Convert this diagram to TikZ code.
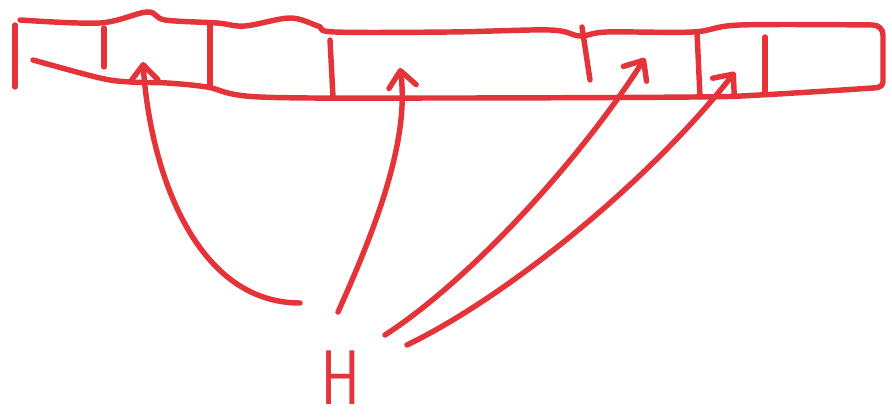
\documentclass[tikz,border=0pt]{standalone}
\usepackage{tikz}
\usetikzlibrary{positioning,arrows.meta}
\definecolor{penred}{HTML}{E5333A}
\tikzset{
  pen/.style={draw=penred, line width=3.1pt, line cap=round, line join=round},
  hook/.style={pen, -{Straight Barb[length=3.2mm,width=5.5mm,round]}},
  letter/.style={text=penred, font=\fontsize{44}{44}\selectfont\sffamily, inner sep=0pt, xscale=0.75},
}
\begin{document}
\begin{tikzpicture}[x=0.02cm, y=-0.02cm]
  \useasboundingbox (0,0) rectangle (892,418);

  % the strip
  \draw[pen] plot[smooth, tension=0.55] coordinates {(20,20) (100,23) (147,12) (165,20) (217,23) (245,26) (290,18) (318,26) (335,32) (450,32) (550,30) (580,36) (607,32) (693,32) (740,25) (873,25)}
    to[out=0, in=90] (883,35) -- (883,82) to[out=-90, in=0] (873,88);
  \draw[pen] plot[smooth, tension=0.55] coordinates {(873,88) (760,95) (693,97) (450,98) (260,97) (207,87) (167,83) (130,82) (100,78) (33,60)};
  \draw[pen] (15,25) -- (15,87);
  \foreach \xa/\ya/\xb/\yb in {104/28/104/67, 210/23/210/87, 330/40/333/97, 582/27/590/80, 697/32/700/97, 765/37/765/92}
    \draw[pen] (\xa,\ya) -- (\xb,\yb);

  % label and arrows
  \node[letter] (H) at (341,378) {H};

  \coordinate (tail1) at (300,303);
  \coordinate (tail2) at (338,312);
  \coordinate (tail3) at (385,335);
  \coordinate (tail4) at (407,345);
  \coordinate (tip1) at (143,62);
  \coordinate (tip2) at (400,68);
  \coordinate (tip3) at (645,58);
  \coordinate (tip4) at (735,72);

  \draw[hook] (tail1) .. controls (195,303) and (150,170) .. (tip1);
  \draw[hook] (tail2) .. controls (375,230) and (410,140) .. (tip2);
  \draw[hook] (tail3) .. controls (470,280) and (580,160) .. (tip3);
  \draw[hook] (tail4) .. controls (510,295) and (650,180) .. (tip4);
\end{tikzpicture}
\end{document}
